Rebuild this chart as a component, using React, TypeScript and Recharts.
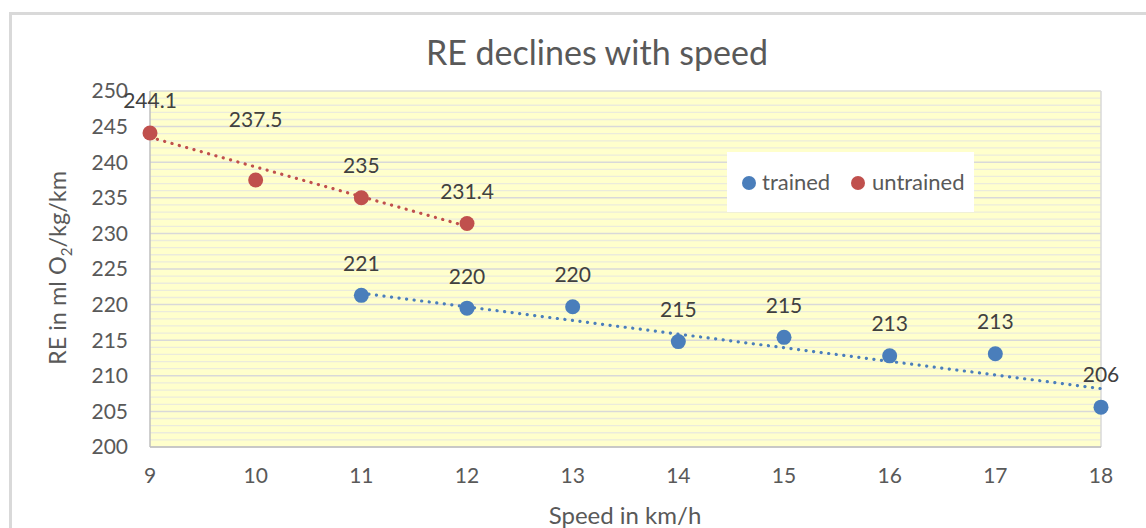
import React from "react";
import {
  ComposedChart,
  Scatter,
  XAxis,
  YAxis,
  CartesianGrid,
  ReferenceLine,
  LabelList,
} from "recharts";

// ---- data ----
const xTicks = [9, 10, 11, 12, 13, 14, 15, 16, 17, 18];
const yTicks = [200, 205, 210, 215, 220, 225, 230, 235, 240, 245, 250];
const minorYTicks = [
  201, 202, 203, 204, 206, 207, 208, 209, 211, 212, 213, 214, 216, 217, 218, 219,
  221, 222, 223, 224, 226, 227, 228, 229, 231, 232, 233, 234, 236, 237, 238, 239,
  241, 242, 243, 244, 246, 247, 248, 249,
];

const untrainedSpeed = [9, 10, 11, 12];
const untrainedRE = [244.1, 237.5, 235, 231.4];
const untrainedLabels = ["244.1", "237.5", "235", "231.4"];

const trainedSpeed = [11, 12, 13, 14, 15, 16, 17, 18];
const trainedRE = [221.3, 219.5, 219.7, 214.8, 215.4, 212.8, 213.1, 205.6];
const trainedLabels = ["221", "220", "220", "215", "215", "213", "213", "206"];

// trendline endpoints
const untrainedTrendX = [9, 12];
const untrainedTrendY = [243.5, 231.0];
const trainedTrendX = [11, 18];
const trainedTrendY = [221.6, 208.2];

const BLUE = "#4a7ebb";
const RED = "#c0504d";
const TEXT = "#595959";
const FONT = "Lato, 'Open Sans', sans-serif";

const untrainedData = untrainedSpeed.map((x, i) => ({ x, y: untrainedRE[i], label: untrainedLabels[i] }));
const trainedData = trainedSpeed.map((x, i) => ({ x, y: trainedRE[i], label: trainedLabels[i] }));
const untrainedTrend = untrainedTrendX.map((x, i) => ({ x, y: untrainedTrendY[i] }));
const trainedTrend = trainedTrendX.map((x, i) => ({ x, y: trainedTrendY[i] }));

const marker = (color: string) => (props: any) =>
  <circle cx={props.cx} cy={props.cy} r={7.5} fill={color} />;

const noShape = () => <g />;

const labelContent = (props: any) => {
  const { x, y, width, height, value } = props;
  const cx = x + (width || 0) / 2;
  const cy = y + (height || 0) / 2;
  // the 237.5 label sits higher in the original (moved by hand)
  const raise = value === "237.5" ? 60 : 32;
  return (
    <text
      x={cx}
      y={cy - raise}
      dy="0.35em"
      textAnchor="middle"
      fontFamily={FONT}
      fontSize={21}
      fill="#404040"
    >
      {value}
    </text>
  );
};

const trendLine = (color: string) => ({
  stroke: color,
  strokeWidth: 3.2,
  strokeDasharray: "0.1 7.5",
  strokeLinecap: "round" as const,
});

const dot = (color: string, left: number) => (
  <span
    style={{
      position: "absolute",
      left: left - 7,
      top: 24,
      width: 14,
      height: 14,
      borderRadius: 7,
      background: color,
    }}
  />
);

export default function App() {
  return (
    <div
      style={{
        position: "absolute",
        left: 0,
        top: 0,
        width: 1146,
        height: 528,
        overflow: "hidden",
        background: "#fff",
        fontFamily: FONT,
      }}
    >
      <div
        style={{
          position: "absolute",
          left: 9,
          top: 12,
          width: 1200,
          height: 600,
          border: "3px solid #d9d9d9",
        }}
      />
      <div
        style={{
          position: "absolute",
          left: 0,
          width: 1194,
          top: 30,
          textAlign: "center",
          fontSize: 34,
          color: TEXT,
          lineHeight: "44px",
        }}
      >
        RE declines with speed
      </div>
      <div style={{ position: "absolute", left: 0, top: 0 }}>
        <ComposedChart
          width={1146}
          height={528}
          margin={{ top: 91, right: 45, bottom: 41, left: 90 }}
        >
          <CartesianGrid vertical={false} horizontal={false} fill="#ffffcc" />
          {minorYTicks.map((v) => (
            <ReferenceLine key={v} y={v} stroke="#ebebdc" strokeWidth={1.3} />
          ))}
          <CartesianGrid vertical={false} stroke="#d9d9d9" strokeWidth={1.5} />
          <ReferenceLine x={18} stroke="#d9d9d9" strokeWidth={1.5} />
          <XAxis
            type="number"
            dataKey="x"
            domain={[9, 18]}
            ticks={xTicks}
            interval={0}
            height={40}
            axisLine={{ stroke: "#bfbfbf", strokeWidth: 1.5 }}
            tickLine={false}
            tickSize={0}
            tickMargin={21}
            tick={{ fill: TEXT, fontSize: 21, fontFamily: FONT }}
          />
          <YAxis
            type="number"
            dataKey="y"
            domain={[200, 250]}
            ticks={yTicks}
            interval={0}
            width={60}
            axisLine={{ stroke: "#bfbfbf", strokeWidth: 1.5 }}
            tickLine={false}
            tickSize={0}
            tickMargin={22}
            tick={{ fill: TEXT, fontSize: 21, fontFamily: FONT }}
          />
          <Scatter
            data={untrainedTrend}
            shape={noShape}
            line={trendLine(RED)}
            lineType="joint"
            isAnimationActive={false}
            legendType="none"
          />
          <Scatter
            data={trainedTrend}
            shape={noShape}
            line={trendLine(BLUE)}
            lineType="joint"
            isAnimationActive={false}
            legendType="none"
          />
          <Scatter
            name="untrained"
            data={untrainedData}
            shape={marker(RED)}
            isAnimationActive={false}
          >
            <LabelList dataKey="label" content={labelContent} />
          </Scatter>
          <Scatter
            name="trained"
            data={trainedData}
            shape={marker(BLUE)}
            isAnimationActive={false}
          >
            <LabelList dataKey="label" content={labelContent} />
          </Scatter>
        </ComposedChart>
      </div>
      {/* y axis title */}
      <div
        style={{
          position: "absolute",
          left: 59,
          top: 268,
          transform: "translate(-50%, -50%) rotate(-90deg)",
          whiteSpace: "nowrap",
          fontSize: 23.5,
          color: TEXT,
        }}
      >
        RE in ml O<sub style={{ fontSize: 15 }}>2</sub>/kg/km
      </div>
      {/* x axis title */}
      <div
        style={{
          position: "absolute",
          left: 0,
          width: 1250,
          top: 500,
          textAlign: "center",
          fontSize: 24,
          color: TEXT,
          lineHeight: "30px",
        }}
      >
        Speed in km/h
      </div>
      {/* legend */}
      <div
        style={{
          position: "absolute",
          left: 727,
          top: 152,
          width: 247,
          height: 60,
          background: "#fff",
          fontSize: 22,
          color: TEXT,
        }}
      >
        {dot(BLUE, 22)}
        <span style={{ position: "absolute", left: 35, top: 16, lineHeight: "28px" }}>trained</span>
        {dot(RED, 131)}
        <span style={{ position: "absolute", left: 145, top: 16, lineHeight: "28px" }}>untrained</span>
      </div>
    </div>
  );
}
